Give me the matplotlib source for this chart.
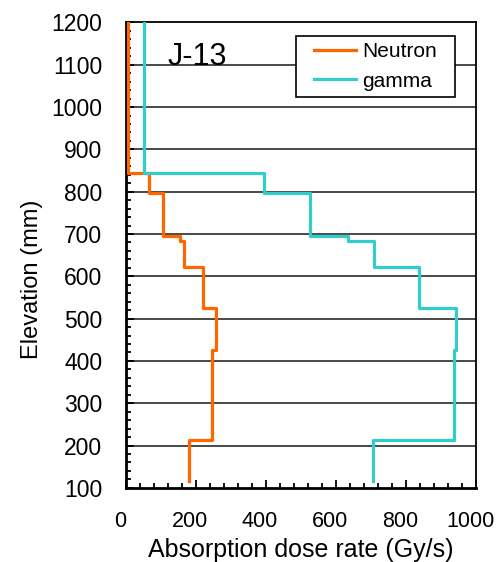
import numpy as np
import matplotlib.pyplot as plt
from matplotlib.path import Path
from matplotlib.ticker import MultipleLocator
from matplotlib.transforms import ScaledTranslation

plt.rcParams['font.family'] = ['Liberation Sans', 'DejaVu Sans']

# segment boundaries (mm), top to bottom
elev_bounds = [1200, 845, 797, 695, 683, 621, 525, 425, 213, 115]
# dose rate within each segment (Gy/s)
neutron = [7, 66, 106, 154, 166, 220, 257, 246, 180]
gamma = [51, 394, 526, 634, 709, 837, 943, 937, 706]


def step_path(bounds, vals):
    ys = np.repeat(bounds, 2)[1:-1]
    xs = np.repeat(vals, 2)
    return xs, ys


def wide_box(x0, y0, width, height, mutation_size, hx=12, vy=0):
    # legend frame with extra horizontal padding
    x0, x1 = x0 - hx, x0 + width + hx
    y0, y1 = y0 - vy, y0 + height + vy
    return Path([(x0, y0), (x1, y0), (x1, y1), (x0, y1), (x0, y0)], closed=True)


fig = plt.figure(figsize=(4.98, 5.62), dpi=100)
ax = fig.add_axes([0.253, 0.132, 0.703, 0.828])

for y in range(200, 1200, 100):
    ax.axhline(y, color='#2a2a2a', lw=1.2, zorder=1)

xs, ys = step_path(elev_bounds, neutron)
ax.plot(xs, ys, color='#FF6600', lw=2.3, label='Neutron', zorder=3)
xs, ys = step_path(elev_bounds, gamma)
ax.plot(xs, ys, color='#33CCCC', lw=2.3, label='gamma', zorder=3)

ax.set_xlim(0, 1000)
ax.set_ylim(100, 1200)
ax.xaxis.set_major_locator(MultipleLocator(200))
ax.xaxis.set_minor_locator(MultipleLocator(40))
ax.yaxis.set_major_locator(MultipleLocator(100))
ax.yaxis.set_minor_locator(MultipleLocator(20))
ax.tick_params(which='both', direction='in', top=False, right=False, width=1.3)
ax.tick_params(which='major', length=6)
ax.tick_params(which='minor', length=3.5)
ax.tick_params(axis='x', pad=17, labelsize=15.5)
ax.tick_params(axis='y', pad=17, labelsize=16.5)

# x tick labels sit a little left of their ticks in the original
shift = ScaledTranslation(-6 / 100, 0, fig.dpi_scale_trans)
for lbl in ax.get_xticklabels():
    lbl.set_transform(lbl.get_transform() + shift)

for s in ax.spines.values():
    s.set_color('black')
    s.set_linewidth(1.3)
ax.spines['left'].set_linewidth(2)
ax.spines['bottom'].set_linewidth(2)

ax.set_xlabel('Absorption dose rate (Gy/s)', fontsize=18, labelpad=4)
ax.set_ylabel('Elevation (mm)', fontsize=17)
ax.yaxis.set_label_coords(-0.237, 0.449)

ax.text(0.12, 0.925, 'J-13', transform=ax.transAxes, fontsize=22,
        va='center', ha='left')

leg = ax.legend(loc='upper right', bbox_to_anchor=(0.906, 0.971), fontsize=15,
                frameon=True, fancybox=False, handlelength=2.0,
                borderpad=0.3, borderaxespad=0, labelspacing=0.5,
                handletextpad=0.3)
frame = leg.get_frame()
frame.set_boxstyle(wide_box)
frame.set_edgecolor('black')
frame.set_linewidth(1.2)
frame.set_alpha(1)

fig.savefig('out.png', dpi=100)
